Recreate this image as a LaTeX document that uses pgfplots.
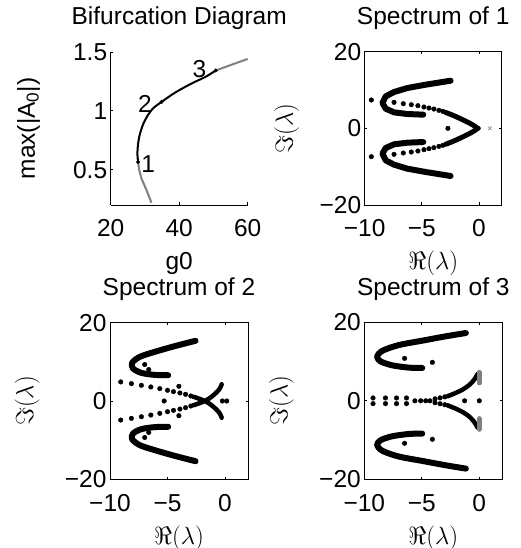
\documentclass[border=0pt]{standalone}
\usepackage{pgfplots}
\pgfplotsset{compat=1.18}
\usepackage{fontspec}
\setmainfont{Liberation Sans}
\begin{document}
\begin{tikzpicture}
\useasboundingbox (0pt,0pt) rectangle (521pt,548pt);
\pgfplotsset{
  myax/.style={
    scale only axis,
    font=\fontsize{24.5}{29}\selectfont,
    tick align=inside,
    major tick length=2.5pt,
    axis line style={line width=0.9pt},
    every tick/.style={black, line width=0.7pt},
    title style={at={(axis description cs:0.5,1)}, anchor=base, yshift=21pt},
    xlabel style={at={(axis description cs:0.5,0)}, anchor=base, yshift=-65pt},
    xticklabel style={anchor=base, yshift=-32pt},
    clip=false,
  },
  spec/.style={myax,
    xmin=-10, xmax=2, ymin=-20, ymax=20,
    xtick={-10,-5,0}, xticklabels={−10,−5,0},
    ytick={-20,0,20}, yticklabels={−20,0,20},
    xlabel={$\Re(\lambda)$}, ylabel={$\Im(\lambda)$},
  },
  thick curve/.style={black, line width=6pt, line cap=round, line join=round, no markers},
  dots/.style={only marks, mark=*, mark size=2.3pt, black},
}
% Panel 1: bifurcation diagram
\begin{axis}[myax, at={(110.7pt,343pt)}, anchor=south west, width=137pt, height=153pt,
  xmin=20, xmax=60, ymin=0.2, ymax=1.5,
  axis x line*=bottom, axis y line*=left,
  xtick={20,40,60}, xticklabels={20,40,60},
  ytick={0.5,1,1.5}, yticklabels={0.5,1,1.5},
  title={Bifurcation Diagram}, xlabel={g0},
  ylabel={max(|A\textsubscript{0}|)},
  ylabel style={at={(axis description cs:-0.6,0.5)}, anchor=center},
]
\addplot[black!50, line width=2pt, no markers] coordinates {
(31.9,0.219) (30.46,0.326) (29.0,0.424) (28.3,0.5) (28.0,0.565)};
\addplot[black!50, line width=2pt, no markers] coordinates {
(50.7,1.343) (55.4,1.393) (60,1.441)};
\addplot[black, line width=2pt, no markers, smooth] coordinates {
(28.0,0.565) (27.8,0.635) (28.0,0.72) (28.5,0.80) (29.5,0.888) (30.75,0.958) (32.4,1.022) (34.86,1.076) (38.8,1.155) (43.65,1.233) (47.57,1.287) (50.7,1.343)};
\addplot[only marks, mark=*, mark size=1.8pt, black] coordinates {
(28.0,0.565) (34.86,1.076) (50.7,1.343)};
\node at (axis cs:30.95,0.55) {1};
\node at (axis cs:29.97,1.056) {2};
\node at (axis cs:45.9,1.354) {3};
\end{axis}
% Panel 2: spectrum of 1
\begin{axis}[spec, at={(364.7pt,343pt)}, anchor=south west, width=137pt, height=153.3pt,
  title={Spectrum of 1},
  ylabel style={at={(axis description cs:-0.57,0.5)}, anchor=center},
]
\addplot[thick curve] coordinates {
(-2.48,12.43) (-4.66,11.39) (-6.27,10.52) (-7.43,9.48) (-8.16,8.35) (-8.45,6.61) (-8.16,5.13) (-7.43,4.17) (-6.27,3.74) (-4.87,3.57)};
\addplot[thick curve] coordinates {
(-2.48,-12.43) (-4.66,-11.39) (-6.27,-10.52) (-7.43,-9.48) (-8.16,-8.35) (-8.45,-6.61) (-8.16,-5.13) (-7.43,-4.17) (-6.27,-3.74) (-4.87,-3.57)};
\addplot[thick curve, line width=5pt, smooth] coordinates {
(-2.92,4.17) (-2.19,3.30) (-1.31,2.09) (-0.58,0.96) (-0.15,0) (-0.58,-0.96) (-1.31,-2.09) (-2.19,-3.30) (-2.92,-4.17)};
\addplot[dots] coordinates {
(-7.43,6.78) (-6.62,6.43) (-5.92,6.17) (-5.34,5.91) (-4.81,5.57) (-4.37,5.30) (-3.94,5.04) (-3.50,4.70) (-3.15,4.43)
(-7.43,-6.78) (-6.62,-6.43) (-5.92,-6.17) (-5.34,-5.91) (-4.81,-5.57) (-4.37,-5.30) (-3.94,-5.04) (-3.50,-4.70) (-3.15,-4.43)
(-9.42,7.4) (-9.42,-7.4) (-2.71,0) (-0.06,0)};
\addplot[only marks, mark=x, mark size=2.5pt, black!45, line width=0.7pt] coordinates {(0.96,0)};
\end{axis}
% Panel 3: spectrum of 2
\begin{axis}[spec, at={(110pt,68.7pt)}, anchor=south west, width=138pt, height=156.6pt,
  title={Spectrum of 2},
  ylabel style={at={(axis description cs:-0.6,0.5)}, anchor=center},
]
\addplot[thick curve, smooth] coordinates {
(-2.56,15.38) (-4.36,14.02) (-6.10,12.56) (-7.41,11.28) (-8.08,9.74) (-7.99,8.29) (-7.27,7.18) (-6.10,6.67) (-4.94,6.58)};
\addplot[thick curve, smooth] coordinates {
(-2.56,-15.38) (-4.36,-14.02) (-6.10,-12.56) (-7.41,-11.28) (-8.08,-9.74) (-7.99,-8.29) (-7.27,-7.18) (-6.10,-6.67) (-4.94,-6.58)};
\addplot[thick curve, line width=4.5pt, smooth] coordinates {
(-2.76,1.11) (-1.74,0) (-1.16,-1.11) (-0.73,-2.22) (-0.44,-3.25) (-0.29,-4.27)};
\addplot[thick curve, line width=4.5pt, smooth] coordinates {
(-2.76,-1.11) (-1.74,0) (-1.16,1.11) (-0.73,2.22) (-0.44,3.25) (-0.29,4.27)};
\addplot[dots] coordinates {
(-6.98,9.32) (-6.63,8.03) (-6.98,-9.32) (-6.63,-8.03)
(-9.07,4.87) (-8.14,4.44) (-7.27,4.02) (-6.45,3.59) (-5.67,3.16) (-5.0,2.74) (-4.48,2.39) (-3.92,2.05) (-3.43,1.71) (-2.97,1.28)
(-9.07,-4.87) (-8.14,-4.44) (-7.27,-4.02) (-6.45,-3.59) (-5.67,-3.16) (-5.0,-2.74) (-4.48,-2.39) (-3.92,-2.05) (-3.43,-1.71) (-2.97,-1.28)
(-4.01,3.76) (-4.01,-3.76) (-5.29,0) (-0.23,0) (0.15,0)};
\end{axis}
% Panel 4: spectrum of 3
\begin{axis}[spec, at={(364.3pt,68.7pt)}, anchor=south west, width=138pt, height=157pt,
  title={Spectrum of 3},
  ylabel style={at={(axis description cs:-0.6,0.5)}, anchor=center},
]
\addplot[thick curve, smooth] coordinates {
(-1.17,17.27) (-2.92,16.43) (-4.96,15.32) (-7.0,14.2) (-8.40,12.78) (-8.89,11.33) (-8.60,10.06) (-7.58,9.04) (-6.12,8.45) (-4.96,8.36)};
\addplot[thick curve, smooth] coordinates {
(-1.17,-17.27) (-2.92,-16.43) (-4.96,-15.32) (-7.0,-14.2) (-8.40,-12.78) (-8.89,-11.33) (-8.60,-10.06) (-7.58,-9.04) (-6.12,-8.45) (-4.96,-8.36)};
\addplot[thick curve, line width=4.5pt, smooth] coordinates {
(-2.77,1.15) (-2.19,1.83) (-1.46,2.84) (-0.87,4.03) (-0.44,5.39) (-0.15,6.83)};
\addplot[thick curve, line width=4.5pt, smooth] coordinates {
(-2.77,-1.15) (-2.19,-1.83) (-1.46,-2.84) (-0.87,-4.03) (-0.44,-5.39) (-0.15,-6.83)};
\addplot[black!50, line width=5.5pt, line cap=round, no markers] coordinates {(0,4.6) (0,7.2)};
\addplot[black!50, line width=5.5pt, line cap=round, no markers] coordinates {(0,-4.6) (0,-7.2)};
\addplot[dots] coordinates {
(-6.50,10.82) (-4.08,9.80) (-6.50,-10.82) (-4.08,-9.80)
(-9.24,0.72) (-8.16,0.72) (-7.2,0.72) (-6.33,0.72)
(-9.24,-0.72) (-8.16,-0.72) (-7.2,-0.72) (-6.33,-0.72)
(-5.6,0) (-5.1,0) (-4.66,0) (-4.29,0)
(-3.85,0.5) (-3.41,0.75) (-3.0,1.0) (-3.85,-0.5) (-3.41,-0.75) (-3.0,-1.0)
(-1.28,0) (0,0)};
\end{axis}
\end{tikzpicture}
\end{document}
